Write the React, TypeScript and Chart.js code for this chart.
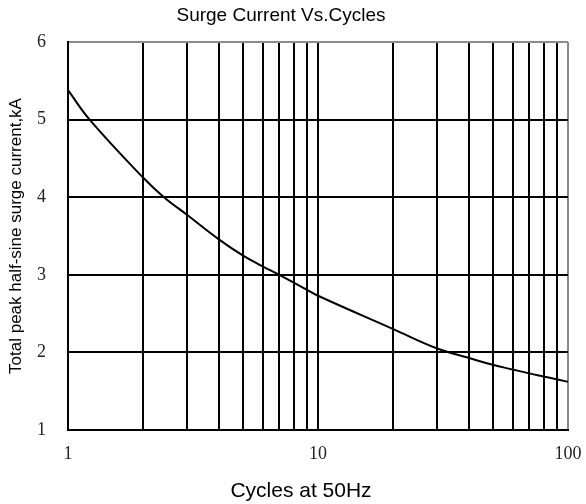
import React, { useEffect, useRef } from "react";
import { Chart, registerables } from "chart.js";

Chart.register(...registerables);

const chartTitle = "Surge Current Vs.Cycles";
const xAxisTitle = "Cycles at 50Hz";
const yAxisTitle = "Total peak half-sine surge current,kA";

const cycles = [1, 1.22, 2, 2.42, 3, 4, 5, 6, 7, 8, 9, 10, 20, 30, 40, 50, 60, 70, 80, 90, 100];
const surgeKA = [5.38, 5.0, 4.25, 4.0, 3.77, 3.46, 3.25, 3.11, 3.0, 2.9, 2.81, 2.73, 2.3, 2.05, 1.93, 1.84, 1.78, 1.73, 1.69, 1.655, 1.62];

const xGridValues = [1, 2, 3, 4, 5, 6, 7, 8, 9, 10, 20, 30, 40, 50, 60, 70, 80, 90, 100];
const xTickLabels = ["1", "10", "100"];
const yMin = 1;
const yMax = 6;

const sans = '"Liberation Sans", Arial, sans-serif';
const serif = '"Liberation Serif", "Times New Roman", serif';

const titlesPlugin = {
  id: "customTitles",
  afterDraw(chart: any) {
    const { ctx, chartArea } = chart;
    ctx.save();
    ctx.fillStyle = "#000";
    ctx.textAlign = "center";
    ctx.textBaseline = "alphabetic";
    ctx.font = `19px ${sans}`;
    ctx.fillText(chartTitle, chartArea.left + chartArea.width * 0.426, chartArea.top - 21);
    ctx.font = `21px ${sans}`;
    ctx.fillText(xAxisTitle, chartArea.left + chartArea.width * 0.466, chartArea.bottom + 67);
    ctx.restore();
  },
};

export default function App() {
  const ref = useRef<HTMLCanvasElement>(null);

  useEffect(() => {
    if (!ref.current) return;
    const chart = new Chart(ref.current, {
      type: "line",
      data: {
        datasets: [
          {
            data: cycles.map((c, i) => ({ x: c, y: surgeKA[i] })),
            borderColor: "#000",
            borderWidth: 2,
            pointRadius: 0,
            tension: 0.4,
            fill: false,
          },
        ],
      },
      options: {
        animation: false,
        responsive: false,
        layout: { padding: { top: 42, right: 18, left: 0, bottom: 0 } },
        plugins: {
          legend: { display: false },
          title: { display: false },
          tooltip: { enabled: false },
        },
        scales: {
          x: {
            type: "logarithmic",
            min: 1,
            max: 100,
            afterBuildTicks: (scale: any) => {
              scale.ticks = xGridValues.map((v) => ({ value: v }));
            },
            afterFit: (scale: any) => {
              scale.height = 74;
              scale.paddingRight = 0;
              scale.paddingLeft = 0;
            },
            grid: {
              color: (ctx: any) => (ctx.tick && ctx.tick.value === 100 ? "#8a8a8a" : "#000"),
              lineWidth: 2,
              drawTicks: false,
            },
            border: { display: true, color: "#000", width: 2 },
            ticks: {
              autoSkip: false,
              maxRotation: 0,
              padding: 13,
              color: "#222",
              font: { family: serif, size: 18 },
              callback: (value: any) => {
                const s = String(value);
                return xTickLabels.includes(s) ? s : "";
              },
            },
            title: { display: false },
          },
          y: {
            type: "linear",
            min: yMin,
            max: yMax,
            afterFit: (scale: any) => {
              scale.width = 68;
              scale.paddingTop = 0;
              scale.paddingBottom = 0;
            },
            grid: {
              color: (ctx: any) => (ctx.tick && ctx.tick.value === yMax ? "#8a8a8a" : "#000"),
              lineWidth: 2,
              drawTicks: false,
            },
            border: { display: true, color: "#000", width: 2 },
            ticks: {
              stepSize: 1,
              padding: 22,
              color: "#222",
              font: { family: serif, size: 18 },
            },
            title: {
              display: true,
              text: yAxisTitle,
              color: "#000",
              font: { family: sans, size: 17 },
              padding: { top: 6, bottom: 0 },
            },
          },
        },
      },
      plugins: [titlesPlugin],
    } as any);
    return () => chart.destroy();
  }, []);

  return (
    <div style={{ position: "fixed", left: 0, top: 0, width: 586, height: 504, background: "#fff" }}>
      <canvas ref={ref} width={586} height={504} style={{ width: 586, height: 504, display: "block" }} />
    </div>
  );
}
